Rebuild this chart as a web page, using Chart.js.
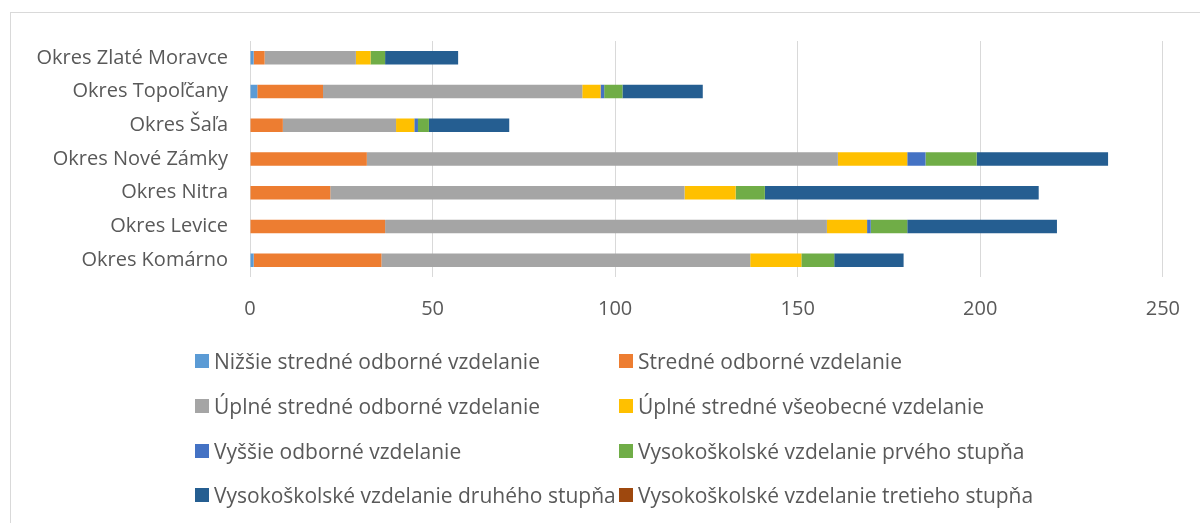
<!DOCTYPE html>
<html>
<head>
<meta charset="utf-8">
<script src="https://cdn.jsdelivr.net/npm/chart.js"></script>
<style>
    body { margin: 0; background: #fff; }
    .cadre { position: absolute; left: 10px; top: 12px; width: 1190px; height: 520px; border: 1px solid #d9d9d9; border-right: none; border-bottom: none; box-sizing: border-box; }
    .graphe { position: absolute; left: 0; top: 0; width: 1200px; height: 523px; }
    .legende { position: absolute; left: 195px; top: 339px; display: grid; grid-template-columns: 424px 424px; grid-auto-rows: 44.7px; font-family: "Open Sans", sans-serif; font-size: 21px; color: #595959; }
    .legende div { display: flex; align-items: center; white-space: nowrap; }
    .legende span { display: inline-block; width: 14px; height: 14px; margin-right: 5px; }
</style>
</head>
<body>
<div class="cadre"></div>
<div class="graphe"><canvas id="myChart"></canvas></div>
<div class="legende" id="legende"></div>
<script>
const okresy = ["Okres Zlaté Moravce", "Okres Topoľčany", "Okres Šaľa", "Okres Nové Zámky", "Okres Nitra", "Okres Levice", "Okres Komárno"]

const nizsieStredne = [1, 2, 0, 0, 0, 0, 1]
const stredne = [3, 18, 9, 32, 22, 37, 35]
const uplneOdborne = [25, 71, 31, 129, 97, 121, 101]
const uplneVseobecne = [4, 5, 5, 19, 14, 11, 14]
const vyssieOdborne = [0, 1, 1, 5, 0, 1, 0]
const vsPrvy = [4, 5, 3, 14, 8, 10, 9]
const vsDruhy = [20, 22, 22, 36, 75, 41, 19]
const vsTreti = [0, 0, 0, 0, 0, 0, 0]

const xTicks = [0, 50, 100, 150, 200, 250]

const nazvy = ["Nižšie stredné odborné vzdelanie", "Stredné odborné vzdelanie", "Úplné stredné odborné vzdelanie", "Úplné stredné všeobecné vzdelanie",
    "Vyššie odborné vzdelanie", "Vysokoškolské vzdelanie prvého stupňa", "Vysokoškolské vzdelanie druhého stupňa", "Vysokoškolské vzdelanie tretieho stupňa"]
const hodnoty = [nizsieStredne, stredne, uplneOdborne, uplneVseobecne, vyssieOdborne, vsPrvy, vsDruhy, vsTreti]
const farby = ["#5B9BD5", "#ED7D31", "#A5A5A5", "#FFC000", "#4472C4", "#70AD47", "#255E91", "#9E480E"]

const data = {
    labels: okresy,
    datasets: nazvy.map((n, i) => ({
        label: n,
        data: hodnoty[i],
        backgroundColor: farby[i],
        borderWidth: 0,
        categoryPercentage: 1,
        barPercentage: 0.4
    }))
}

const config = {
    type: 'bar',
    data: data,
    options: {
        indexAxis: 'y',
        responsive: true,
        maintainAspectRatio: false,
        animation: false,
        layout: { padding: { top: 41, bottom: 196, left: 0, right: 35 } },
        plugins: { legend: { display: false }, tooltip: { enabled: false } },
        scales: {
            x: {
                stacked: true,
                min: 0,
                max: 250,
                afterBuildTicks: (s) => { s.ticks = xTicks.map(v => ({ value: v })) },
                afterFit: (s) => { s.height = 50 },
                grid: { color: "#d9d9d9", drawTicks: false },
                border: { display: false },
                ticks: { padding: 20, color: "#595959", font: { family: "Open Sans", size: 20 } }
            },
            y: {
                stacked: true,
                afterFit: (s) => { s.width = 250 },
                grid: { display: false, drawTicks: false },
                border: { display: false },
                ticks: { padding: 22, color: "#595959", font: { family: "Open Sans", size: 20 } }
            }
        }
    }
}

new Chart(document.querySelector("#myChart"), config)

// legenda v dvoch stĺpcoch
const legende = document.querySelector("#legende")
nazvy.forEach((n, i) => {
    const el = document.createElement("div")
    el.innerHTML = `<span style="background:${farby[i]}"></span>${n}`
    legende.appendChild(el)
})
</script>
</body>
</html>
